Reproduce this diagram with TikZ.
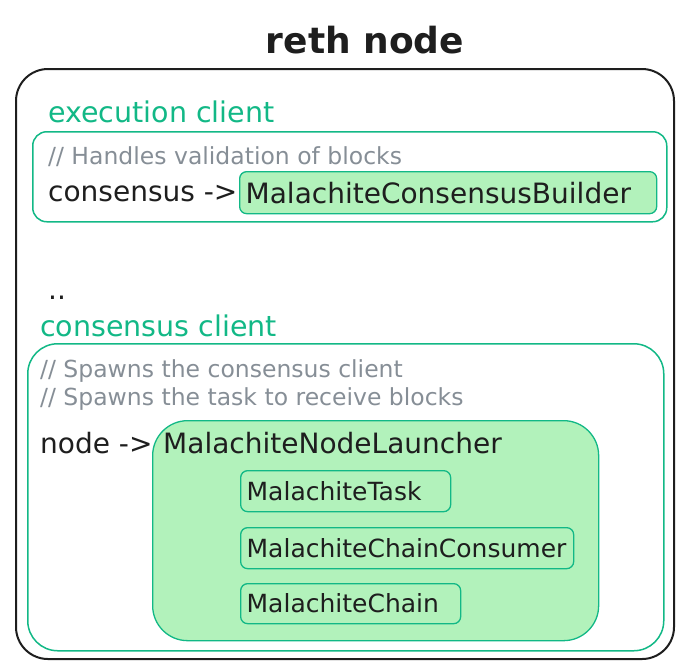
\documentclass[tikz,border=0pt]{standalone}
\usepackage{fontspec}
\usetikzlibrary{positioning}
\setmainfont{DejaVu Sans}
\definecolor{clientgreen}{HTML}{12B886}
\definecolor{fillgreen}{HTML}{B2F2BB}
\definecolor{commentgray}{HTML}{868E96}
\definecolor{inkblack}{HTML}{1E1E1E}
\begin{document}
\begin{tikzpicture}[x=1pt, y=-1pt,
    outer/.style = {draw=inkblack, line width=2pt, rounded corners=32pt, anchor=north west},
    client/.style = {draw=clientgreen, line width=1.5pt, anchor=north west},
    comp/.style = {draw=clientgreen, fill=fillgreen, line width=1.3pt, rounded corners=7pt, anchor=north west,
        inner xsep=6pt, align=left, text=inkblack, font=\fontsize{25}{25}\selectfont},
    label/.style = {anchor=base west, inner sep=0pt, text=clientgreen, font=\fontsize{28.5}{28.5}\selectfont},
    comment/.style = {anchor=base west, inner sep=0pt, text=commentgray, font=\fontsize{23.5}{23.5}\selectfont},
    code/.style = {anchor=base west, inner sep=0pt, text=inkblack, font=\fontsize{28}{28}\selectfont}]
    \useasboundingbox (0,0) rectangle (684,667);
    \node[anchor=base, text=inkblack, font=\fontsize{36}{36}\selectfont\bfseries] (title) at (365,53) {reth node};
    \node[outer, minimum width=658pt, minimum height=590pt] (reth) at (15,68) {};
    % execution client
    \node[label] (execlabel) at (48,122) {execution client};
    \node[client, rounded corners=14pt, minimum width=634pt, minimum height=90pt] (exec) at (32,131) {};
    \node[comment] (execnote) at (48,164) {// Handles validation of blocks};
    \node[code] (consensus) at (48,201) {consensus ->};
    \node[comp, font=\fontsize{28}{28}\selectfont, minimum width=417pt, minimum height=42pt, text width=405pt] (builder) at (239,171) {MalachiteConsensusBuilder};
    \node[code] (dots) at (48,299) {..};
    % consensus client
    \node[label] (conslabel) at (40,336) {consensus client};
    \node[client, rounded corners=30pt, minimum width=636pt, minimum height=307pt] (cons) at (27,343) {};
    \node[comment] (consnote) at (40,377) {// Spawns the consensus client};
    \node[comment, below=28pt of consnote.base west, anchor=base west] (tasknote) {// Spawns the task to receive blocks};
    \node[code] (nodeptr) at (40,453) {node ->};
    \node[comp, rounded corners=35pt, minimum width=446pt, minimum height=220pt] (launcher) at (152,420) {};
    \node[code] (launchertext) at (163,453) {MalachiteNodeLauncher};
    \node[comp, minimum width=210pt, minimum height=41pt, text width=198pt] (task) at (240,470) {MalachiteTask};
    \node[comp, minimum width=333pt, minimum height=41pt, text width=321pt] (consumer) at (240,527) {MalachiteChainConsumer};
    \node[comp, minimum width=220pt, minimum height=40pt, text width=208pt] (chain) at (240,583) {MalachiteChain};
\end{tikzpicture}
\end{document}
